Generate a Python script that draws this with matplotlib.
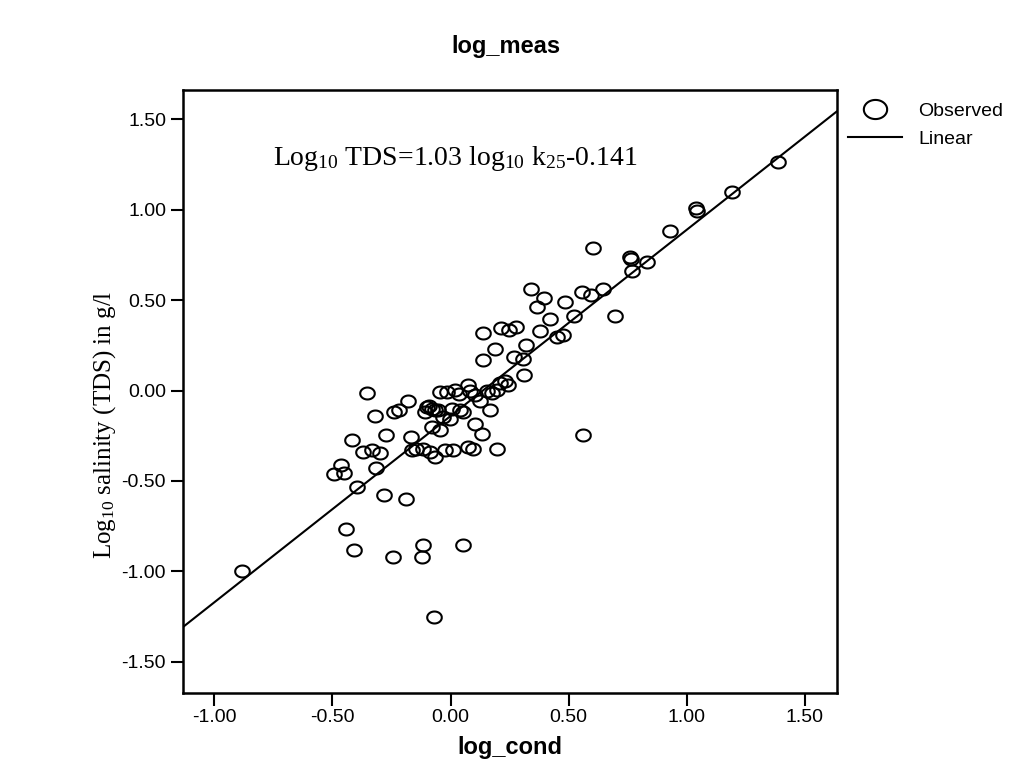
import numpy as np
import matplotlib
matplotlib.use("Agg")
import matplotlib.pyplot as plt
from matplotlib.path import Path

plt.rcParams['font.family'] = ['Liberation Sans', 'DejaVu Sans']
plt.rcParams['mathtext.fontset'] = 'custom'
plt.rcParams['mathtext.rm'] = 'Liberation Serif'
plt.rcParams['mathtext.it'] = 'Liberation Serif:italic'

# observed points (log_cond, log_meas)
log_cond = [-0.884, -0.465, -0.494, -0.451, -0.317, -0.396, -0.282, -0.189, -0.443, -0.408,
            -0.244, -0.118, -0.122, 0.054, -0.070, 1.385, 1.190, 1.039, 1.042, 0.929,
            0.602, 0.760, 0.762, 0.830, 0.767, 0.342, 0.644, 0.556, 0.596, 0.395,
            0.367, 0.484, 0.421, 0.522, 0.697, 0.378, 0.449, 0.475, 0.319, 0.305,
            0.311, 0.559, 0.138, 0.213, 0.249, 0.277, 0.188, 0.138, 0.270, 0.075,
            -0.017, 0.019, 0.037, 0.082, 0.103, 0.153, 0.174, 0.210, 0.230, 0.244,
            0.198, 0.124, 0.167, 0.005, 0.040, 0.054, -0.101, -0.080, -0.052, -0.031,
            -0.003, -0.080, -0.045, 0.103, 0.132, -0.116, -0.087, -0.066, -0.024, 0.011,
            0.075, 0.096, 0.195, -0.355, -0.320, -0.240, -0.218, -0.179, -0.045, -0.275,
            -0.416, -0.169, -0.148, -0.372, -0.334, -0.299, -0.090, -0.108, -0.066, -0.163]
log_meas = [-0.999, -0.414, -0.464, -0.454, -0.428, -0.536, -0.580, -0.600, -0.766, -0.883,
            -0.918, -0.852, -0.918, -0.852, -1.250, 1.263, 1.099, 1.012, 0.990, 0.881,
            0.787, 0.741, 0.727, 0.713, 0.661, 0.560, 0.560, 0.543, 0.528, 0.510,
            0.464, 0.488, 0.393, 0.412, 0.412, 0.329, 0.298, 0.306, 0.251, 0.173,
            0.085, -0.248, 0.320, 0.347, 0.334, 0.349, 0.227, 0.168, 0.183, 0.029,
            -0.007, 0.002, -0.017, -0.004, -0.026, -0.004, -0.013, 0.039, 0.052, 0.029,
            0.002, -0.057, -0.105, -0.100, -0.109, -0.118, -0.090, -0.100, -0.109, -0.146,
            -0.155, -0.201, -0.220, -0.183, -0.238, -0.321, -0.340, -0.367, -0.331, -0.331,
            -0.312, -0.321, -0.321, -0.013, -0.140, -0.118, -0.105, -0.057, -0.007, -0.248,
            -0.271, -0.257, -0.321, -0.340, -0.327, -0.345, -0.085, -0.118, -0.109, -0.327]

slope = 1.03
intercept = -0.141
xticks = [-1.0, -0.5, 0.0, 0.5, 1.0, 1.5]
yticks = [-1.5, -1.0, -0.5, 0.0, 0.5, 1.0, 1.5]
xlim = (-1.134, 1.634)
ylim = (-1.671, 1.662)

# slightly flattened ring marker like the SPSS output
t = np.linspace(0, 2 * np.pi, 80)
ring = Path(np.column_stack([np.cos(t), 0.82 * np.sin(t)]))

fig = plt.figure(figsize=(10.11, 7.69), dpi=100)
ax = fig.add_axes([0.1807, 0.0992, 0.6467, 0.7838])

ax.plot(log_cond, log_meas, linestyle='none', marker=ring, markersize=10.5,
        markerfacecolor='none', markeredgecolor='black', markeredgewidth=1.5,
        label='Observed')
lx = np.array(xlim)
ax.plot(lx, slope * lx + intercept, color='black', lw=1.5, label='Linear')

ax.set_xlim(*xlim)
ax.set_ylim(*ylim)
ax.set_xticks(xticks)
ax.set_yticks(yticks)
ax.set_xticklabels(['%.2f' % v for v in xticks])
ax.set_yticklabels(['%.2f' % v for v in yticks])
ax.tick_params(direction='out', length=9, width=1.5, labelsize=14, pad=3)
for s in ax.spines.values():
    s.set_linewidth(1.8)

ax.set_xlabel('log_cond', fontsize=17, fontweight='bold', labelpad=7)
fig.text(0.5, 1 - 46 / 769, 'log_meas', fontsize=17, fontweight='bold',
         ha='center', va='center')
fig.text(105 / 1011, 1 - 425 / 769, r'Log$_{10}$ salinity (TDS) in g/l',
         family='Liberation Serif', fontsize=18, rotation=90, ha='center', va='center')
ax.text(0.4165, 0.887, r'Log$_{10}$ TDS=1.03 log$_{10}$ k$_{25}$-0.141',
        family='Liberation Serif', fontsize=20, ha='center', va='center',
        transform=ax.transAxes)

fig.legend(loc='upper left', bbox_to_anchor=(848 / 1011, 1 - 102 / 769),
           frameon=False, fontsize=14, handlelength=2.8, handletextpad=0.8,
           labelspacing=0.55, borderpad=0, borderaxespad=0, markerscale=1.6)

fig.savefig('out.png', dpi=100)
